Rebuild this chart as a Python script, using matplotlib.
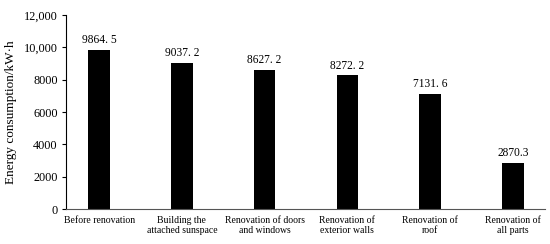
import matplotlib
matplotlib.use("Agg")
import matplotlib.pyplot as plt

categories = ["Before renovation", "Building the\nattached sunspace", "Renovation of doors\nand windows",
              "Renovation of\nexterior walls", "Renovation of\nroof", "Renovation of\nall parts"]
values = [9864.5, 9037.2, 8627.2, 8272.2, 7131.6, 2870.3]
value_labels = ["9864. 5", "9037. 2", "8627. 2", "8272. 2", "7131. 6", "2870.3"]
yticks = [0, 2000, 4000, 6000, 8000, 10000, 12000]
ytick_labels = ["0", "2000", "4000", "6000", "8000", "10,000", "12,000"]

plt.rcParams['font.family'] = ['Liberation Serif', 'DejaVu Serif']

fig = plt.figure(figsize=(5.5, 2.44), dpi=100)
ax = fig.add_axes([0.12, 0.1434, 0.871, 0.795])
x = list(range(len(categories)))
ax.bar(x, values, width=0.26, color='black')
for xi, v, lab in zip(x, values, value_labels):
    ax.text(xi, v + 230, lab, ha='center', va='bottom', fontsize=8.3)
ax.set_xlim(-0.4, 5.39)
ax.set_ylim(0, 12000)
ax.set_yticks(yticks)
ax.set_yticklabels(ytick_labels, fontsize=8.8)
ax.set_xticks(x)
ax.set_xticklabels(categories, fontsize=7)
ax.tick_params(axis='x', length=0, pad=5)
ax.tick_params(axis='y', length=3, direction='out', pad=3)
ax.spines['top'].set_visible(False)
ax.spines['right'].set_visible(False)
ax.spines['bottom'].set_color('#555555')
ax.set_ylabel("Energy consumption/kW·h", fontsize=9.5, labelpad=5)
fig.savefig("out.png", dpi=100)
